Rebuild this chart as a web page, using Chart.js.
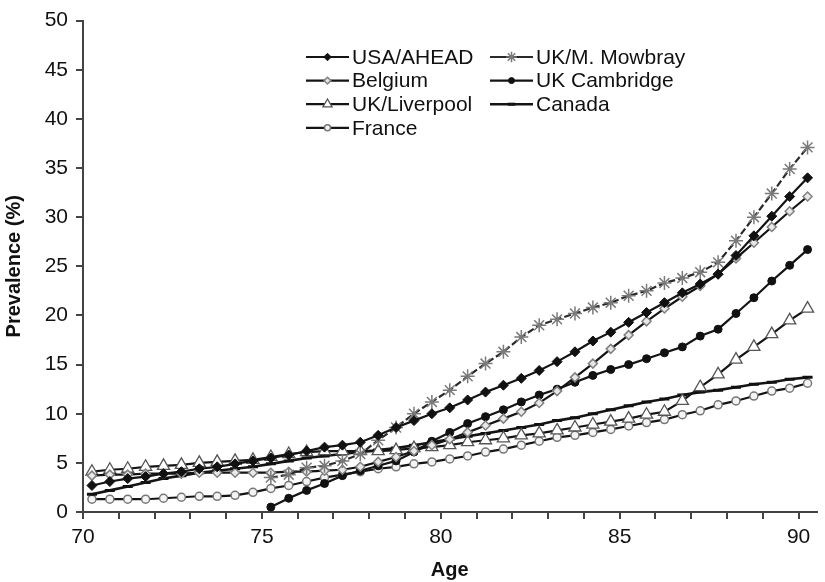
<!DOCTYPE html>
<html>
<head>
<meta charset="utf-8">
<script src="https://cdn.jsdelivr.net/npm/chart.js"></script>
<style>
  html, body { margin: 0; padding: 0; background: #ffffff; }
  #wrap { width: 825px; height: 582px; position: relative; }
  canvas { display: block; }
</style>
</head>
<body>
<div id="wrap"><canvas id="c" width="825" height="582"></canvas></div>
<script>
// ---- Data ----
const ages = [70.25,70.75,71.25,71.75,72.25,72.75,73.25,73.75,74.25,74.75,
              75.25,75.75,76.25,76.75,77.25,77.75,78.25,78.75,79.25,79.75,
              80.25,80.75,81.25,81.75,82.25,82.75,83.25,83.75,84.25,84.75,
              85.25,85.75,86.25,86.75,87.25,87.75,88.25,88.75,89.25,89.75,
              90.25];

const usaAhead = [2.7,3.1,3.4,3.6,3.9,4.1,4.4,4.6,4.9,5.2,
                  5.5,5.8,6.2,6.6,6.8,7.1,7.8,8.6,9.3,10.0,
                  10.6,11.4,12.2,12.9,13.6,14.4,15.3,16.3,17.4,18.3,
                  19.3,20.3,21.3,22.3,23.2,24.2,26.1,28.1,30.1,32.1,
                  34.0];

const ukMowbray = [null,null,null,null,null,null,null,null,null,null,
                   3.5,3.8,4.5,4.7,5.2,5.9,7.3,8.6,10.0,11.2,
                   12.4,13.8,15.1,16.3,17.8,19.0,19.6,20.2,20.8,21.3,
                   22.0,22.5,23.3,23.8,24.4,25.4,27.6,30.0,32.4,34.9,
                   37.1];

const belgium = [3.7,3.8,3.8,3.9,3.9,3.9,4.0,4.0,4.0,4.0,
                 4.0,4.1,4.1,4.2,4.3,4.6,5.1,5.6,6.2,6.8,
                 7.4,8.1,8.8,9.5,10.2,11.1,12.3,13.7,15.1,16.6,
                 18.0,19.4,20.7,21.9,23.0,24.2,25.8,27.4,29.0,30.6,
                 32.1];

const ukCambridge = [null,null,null,null,null,null,null,null,null,null,
                     0.5,1.4,2.2,2.9,3.7,4.2,4.7,5.2,6.1,7.2,
                     8.1,9.0,9.7,10.4,11.2,11.9,12.5,13.2,13.9,14.5,
                     15.0,15.6,16.2,16.8,17.9,18.6,20.2,21.8,23.5,25.1,
                     26.7];

const ukLiverpool = [4.1,4.3,4.4,4.6,4.7,4.8,5.0,5.1,5.2,5.3,
                     5.6,5.9,6.1,6.2,6.2,6.2,6.2,6.3,6.5,6.6,
                     6.8,7.1,7.3,7.5,7.8,8.0,8.3,8.6,8.9,9.2,
                     9.5,9.9,10.2,11.3,12.7,14.0,15.5,16.8,18.1,19.5,
                     20.7];

const canada = [1.8,2.2,2.6,3.0,3.4,3.7,4.0,4.2,4.4,4.6,
                4.9,5.2,5.5,5.7,5.9,6.1,6.3,6.5,6.8,7.1,
                7.4,7.7,8.0,8.3,8.6,8.9,9.3,9.6,10.0,10.4,
                10.8,11.2,11.5,11.9,12.2,12.4,12.7,13.0,13.2,13.5,
                13.7];

const france = [1.3,1.3,1.3,1.3,1.4,1.5,1.6,1.6,1.7,2.0,
                2.4,2.7,3.1,3.5,3.8,4.1,4.4,4.6,4.9,5.1,
                5.4,5.7,6.1,6.4,6.8,7.2,7.6,7.8,8.1,8.4,
                8.75,9.1,9.4,9.9,10.3,10.9,11.3,11.8,12.3,12.6,
                13.1];

const seriesNames = ['USA/AHEAD','UK/M. Mowbray','Belgium','UK Cambridge','UK/Liverpool','Canada','France'];
const xTickLabels = [70,75,80,85,90];
const yTickLabels = [0,5,10,15,20,25,30,35,40,45,50];

// ---- Build chart ----
function pts(vals) { return ages.map((a, i) => ({ x: a, y: vals[i] })); }

const FONT = '"Liberation Sans", Arial, Helvetica, sans-serif';
const LINE = '#141414';

const datasets = [
  { label: seriesNames[0], data: pts(usaAhead), borderColor: LINE, borderWidth: 2.2,
    pointStyle: 'rectRot', pointRadius: 5, pointBackgroundColor: '#111', pointBorderColor: '#111', pointBorderWidth: 1 },
  { label: seriesNames[1], data: pts(ukMowbray), borderColor: '#2a2a2a', borderWidth: 2.2, borderDash: [7, 3],
    pointStyle: 'star', pointRadius: 7, pointBackgroundColor: '#fff', pointBorderColor: '#7a7a7a', pointBorderWidth: 1.5 },
  { label: seriesNames[2], data: pts(belgium), borderColor: LINE, borderWidth: 2.2,
    pointStyle: 'rectRot', pointRadius: 4.5, pointBackgroundColor: '#e8e8e8', pointBorderColor: '#808080', pointBorderWidth: 1.5 },
  { label: seriesNames[3], data: pts(ukCambridge), borderColor: LINE, borderWidth: 2.2,
    pointStyle: 'circle', pointRadius: 4, pointBackgroundColor: '#111', pointBorderColor: '#111', pointBorderWidth: 1 },
  { label: seriesNames[4], data: pts(ukLiverpool), borderColor: LINE, borderWidth: 2.2,
    pointStyle: 'triangle', pointRadius: 7, pointBackgroundColor: '#ffffff', pointBorderColor: '#555', pointBorderWidth: 1.3 },
  { label: seriesNames[5], data: pts(canada), borderColor: LINE, borderWidth: 2.6,
    pointStyle: 'line', pointRadius: 5, pointBackgroundColor: '#111', pointBorderColor: '#111', pointBorderWidth: 3 },
  { label: seriesNames[6], data: pts(france), borderColor: LINE, borderWidth: 2.2,
    pointStyle: 'circle', pointRadius: 4, pointBackgroundColor: '#f4f4f4', pointBorderColor: '#777', pointBorderWidth: 1.5 }
];
datasets.forEach(d => { d.fill = false; d.tension = 0; d.spanGaps = false; d.pointHoverRadius = d.pointRadius; });

// legend drawn inside the plot in two columns (row-major order)
const legendPlugin = {
  id: 'twoColLegend',
  afterDraw(chart) {
    const ctx = chart.ctx;
    const colX = [306, 490];
    const rowY0 = 57, rowH = 23.6, segW = 43;
    ctx.save();
    chart.data.datasets.forEach((ds, i) => {
      const x = colX[i % 2];
      const y = rowY0 + Math.floor(i / 2) * rowH;
      ctx.strokeStyle = ds.borderColor;
      ctx.lineWidth = ds.borderWidth;
      ctx.setLineDash([]);
      ctx.beginPath(); ctx.moveTo(x, y); ctx.lineTo(x + segW, y); ctx.stroke();
      ctx.fillStyle = ds.pointBackgroundColor;
      ctx.strokeStyle = ds.pointBorderColor;
      ctx.lineWidth = ds.pointBorderWidth;
      Chart.helpers.drawPoint(ctx, { pointStyle: ds.pointStyle, radius: ds.pointRadius * 0.75, borderWidth: ds.pointBorderWidth, rotation: 0 }, x + segW / 2, y);
      ctx.fillStyle = '#111';
      ctx.font = '21px ' + FONT;
      ctx.textBaseline = 'middle';
      ctx.textAlign = 'left';
      ctx.fillText(ds.label, x + segW + 3, y + 1);
    });
    ctx.restore();
  }
};

new Chart(document.getElementById('c'), {
  type: 'line',
  data: { datasets },
  options: {
    responsive: false,
    animation: false,
    devicePixelRatio: 1,
    layout: { padding: { top: 15, right: 0, left: 0, bottom: 0 } },
    plugins: { legend: { display: false }, tooltip: { enabled: false } },
    scales: {
      x: {
        type: 'linear', min: 70, max: 90.5,
        afterFit(s) { s.height = 70; },
        ticks: {
          stepSize: 1, autoSkip: false, includeBounds: false, maxRotation: 0,
          color: '#111', font: { family: FONT, size: 21 }, padding: 6,
          callback: (v) => xTickLabels.includes(v) ? String(v) : ''
        },
        grid: { display: true, drawOnChartArea: false, drawTicks: true, tickLength: 7, color: '#444', lineWidth: 2 },
        border: { display: true, color: '#444', width: 2 },
        title: { display: true, text: 'Age', color: '#111', font: { family: FONT, size: 20, weight: 'bold' }, padding: { top: 4, bottom: 0 } }
      },
      y: {
        type: 'linear', min: 0, max: 50,
        afterFit(s) { s.width = 83; },
        ticks: {
          stepSize: 5, autoSkip: false, color: '#111', font: { family: FONT, size: 21 }, padding: 8,
          callback: (v) => yTickLabels.includes(v) ? String(v) : ''
        },
        grid: { display: true, drawOnChartArea: false, drawTicks: true, tickLength: 7, color: '#444', lineWidth: 2 },
        border: { display: true, color: '#444', width: 2 },
        title: { display: true, text: 'Prevalence (%)', color: '#111', font: { family: FONT, size: 20, weight: 'bold' }, padding: { top: 2, bottom: 0 } }
      }
    }
  },
  plugins: [legendPlugin]
});
</script>
</body>
</html>
